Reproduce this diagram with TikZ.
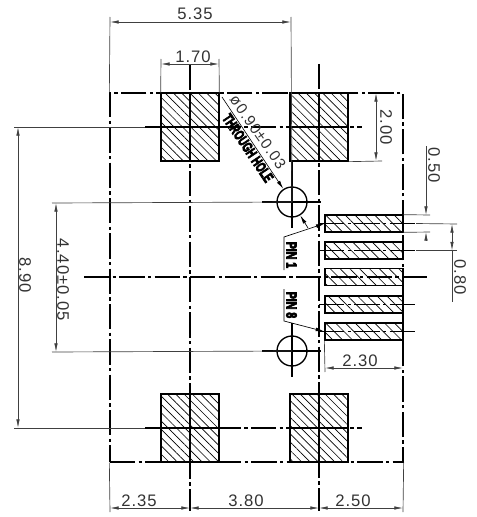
\documentclass[tikz,border=0pt]{standalone}
\usepackage{fontspec}
\setmainfont{Liberation Sans}
\newfontfamily\dimfont[LetterSpace=6]{Liberation Sans}
\newfontfamily\tagfont[FakeBold=6]{Liberation Sans Bold}
\usetikzlibrary{positioning}
\usetikzlibrary{arrows.meta}
\usetikzlibrary{patterns.meta}
\tikzset{
outline/.style={ % board edge and centre lines
draw,
line width=1pt,
dash pattern=on 19pt off 2.5pt on 2.5pt off 2.5pt},
padbox/.style={
draw,
line width=1pt,
inner sep=0pt,
pattern={Lines[angle=-45,distance=4.4pt,line width=.5pt]}},
pinbox/.style={
draw,
line width=1pt,
inner sep=0pt,
pattern={Lines[angle=-45,distance=5.2pt,line width=.5pt]},
minimum width=58.5pt,
minimum height=12.75pt},
holebox/.style={
circle,
draw,
line width=1pt,
inner sep=0pt,
minimum size=22.5pt},
extline/.style={
draw,
black!75,
line width=.5pt},
dimline/.style={
extline,
{Latex[length=6.5pt,width=2.6pt]}-{Latex[length=6.5pt,width=2.6pt]}},
leader/.style={
extline,
black,
-{Latex[length=6.5pt,width=2.8pt]}},
dimtext/.style={
font=\dimfont\fontsize{12.5}{13}\selectfont,
text=black!80,
inner sep=0pt},
boldtext/.style={
font=\tagfont\fontsize{11}{12}\selectfont,
inner sep=0pt}}
\begin{document}
\begin{tikzpicture}[x=0.75pt,y=-0.75pt]
\useasboundingbox (0,0) rectangle (477,517);
\node[outline, minimum width=219.75pt, minimum height=276.75pt, inner sep=0pt] (board) at (256.5,277.5) {};
\node[padbox, minimum width=43.5pt, minimum height=51pt] (padA) at (190,127) {};
\node[padbox, minimum width=43.5pt, minimum height=51pt] (padB) at (319,127) {};
\node[padbox, minimum width=43.5pt, minimum height=51pt] (padC) at (190,428) {};
\node[padbox, minimum width=43.5pt, minimum height=51pt] (padD) at (319,428) {};
\node[pinbox] (pin1) at (364,223.5) {};
\node[pinbox] (pin2) at (364,250.5) {};
\node[pinbox] (pin3) at (364,277) {};
\node[pinbox] (pin4) at (364,304.5) {};
\node[pinbox] (pin5) at (364,331.5) {};
\node[holebox] (holeA) at (292,202) {};
\node[holebox] (holeB) at (292,351) {};
% centre lines
\coordinate (vA0) at (190,65);
\coordinate (vA1) at (190,511);
\coordinate (vB0) at (319,64);
\coordinate (vB1) at (319,511);
\coordinate (hA0) at (145,127);
\coordinate (hA1) at (362,127);
\coordinate (hC0) at (145,428);
\coordinate (hC1) at (362,428);
\coordinate (hM0) at (84,277);
\coordinate (hM1) at (427,277);
\draw[outline] (vA0) -- (vA1);
\draw[outline] (vB0) -- (vB1);
\draw[outline] (hA0) -- (hA1);
\draw[outline] (hC0) -- (hC1);
\draw[outline] (hM0) -- (hM1);
\draw[line width=.8pt] (padA.north) -- (padA.south);
\draw[line width=.8pt] (padB.north) -- (padB.south);
\draw[line width=.8pt] (padC.north) -- (padC.south);
\draw[line width=.8pt] (padD.north) -- (padD.south);
\draw[line width=.8pt] (padA.west) -- (padA.east);
\draw[line width=.8pt] (padB.west) -- (padB.east);
\draw[line width=.8pt] (padC.west) -- (padC.east);
\draw[line width=.8pt] (padD.west) -- (padD.east);
% hole crosses
\coordinate (xA0) at (262,202);
\coordinate (xA1) at (321,202);
\coordinate (xB0) at (262,351);
\coordinate (xB1) at (321,351);
\coordinate (yA1) at (292,228);
\coordinate (yB0) at (292,323);
\coordinate (yB1) at (292,377);
\draw[line width=1pt] (xA0) -- (xA1);
\draw[line width=1pt] (xB0) -- (xB1);
\draw[line width=1pt] (padB.south -| holeA) -- (yA1);
\draw[line width=1pt] (yB0) -- (yB1);
% pin centre lines
\coordinate (p1L) at (319,223.5);
\coordinate (p1R) at (416,223.5);
\coordinate (p2L) at (319,250.5);
\coordinate (p2R) at (416,250.5);
\coordinate (p4L) at (319,304.5);
\coordinate (p4R) at (416,304.5);
\coordinate (p5L) at (319,331.5);
\coordinate (p5R) at (416,331.5);
\draw[outline] (p1L) -- (p1R);
\draw[outline] (p2L) -- (p2R);
\draw[outline] (p4L) -- (p4R);
\draw[outline] (p5L) -- (p5R);
% 5.35
\coordinate (e535a) at (110,17);
\coordinate (e535b) at (291,17);
\coordinate (d535a) at (110,22);
\coordinate (d535b) at (291,22);
\draw[extline] (e535a) -- (board.north west);
\draw[extline] (e535b) -- (holeA.center);
\draw[dimline] (d535a) -- (d535b);
\node[dimtext] (t535) at (195,14) {5.35};
% 1.70
\coordinate (e170a) at (161,59);
\coordinate (e170b) at (219,59);
\coordinate (d170a) at (161,64);
\coordinate (d170b) at (219,64);
\draw[extline] (e170a) -- (padA.north west);
\draw[extline] (e170b) -- (padA.north east);
\draw[dimline] (d170a) -- (d170b);
\node[dimtext] (t170) at (193,57) {1.70};
% 2.00
\coordinate (e200) at (382,161);
\coordinate (d200a) at (376,93);
\coordinate (d200b) at (376,161);
\draw[extline] (padB.south east) -- (e200);
\draw[dimline] (d200a) -- (d200b);
\node[dimtext, rotate=-90] (t200) at (386,127) {2.00};
% 8.90
\coordinate (e890a) at (14,127);
\coordinate (e890b) at (14,428);
\coordinate (d890a) at (18,127);
\coordinate (d890b) at (18,428);
\draw[extline] (e890a) -- (hA0);
\draw[extline] (e890b) -- (hC0);
\draw[dimline] (d890a) -- (d890b);
\node[dimtext, rotate=-90] (t890) at (25,275) {8.90};
% 4.40
\coordinate (e440a) at (52,203);
\coordinate (e440b) at (52,352);
\coordinate (d440a) at (56,203);
\coordinate (d440b) at (56,352);
\draw[extline] (e440a) -- (holeA.center);
\draw[extline] (e440b) -- (holeB.center);
\draw[dimline] (d440a) -- (d440b);
\node[dimtext, rotate=-90] (t440) at (63,280) {4.40±0.05};
% bottom row
\coordinate (bA) at (110,512);
\coordinate (bB) at (403,512);
\coordinate (d1) at (110,508);
\coordinate (d2) at (190,508);
\coordinate (d3) at (319,508);
\coordinate (d4) at (403,508);
\draw[extline] (board.south west) -- (bA);
\draw[extline] (board.south east) -- (bB);
\draw[dimline] (d1) -- (d2);
\draw[dimline] (d2) -- (d3);
\draw[dimline] (d3) -- (d4);
\node[dimtext] (t235) at (139,501) {2.35};
\node[dimtext] (t380) at (246,501) {3.80};
\node[dimtext] (t250) at (353,501) {2.50};
% 2.30
\coordinate (e230) at (325,372);
\coordinate (d230a) at (325,368);
\coordinate (d230b) at (403,368);
\draw[extline] (pin5.south west) -- (e230);
\draw[dimline] (d230a) -- (d230b);
\node[dimtext] (t230) at (360,361) {2.30};
% 0.50
\coordinate (e050a) at (430,215);
\coordinate (e050b) at (430,232);
\coordinate (d050a) at (426,146);
\coordinate (d050b) at (426,215);
\coordinate (d050c) at (426,232);
\coordinate (d050d) at (426,240);
\draw[extline] (pin1.north east) -- (e050a);
\draw[extline] (pin1.south east) -- (e050b);
\draw[extline, -{Latex[length=6.5pt,width=2.6pt]}] (d050a) -- (d050b);
\draw[extline, -{Latex[length=6.5pt,width=2.6pt]}] (d050d) -- (d050c);
\node[dimtext, rotate=-90] (t050) at (434,165) {0.50};
% 0.80
\coordinate (e080a) at (457,224);
\coordinate (e080b) at (457,250.5);
\coordinate (d080a) at (452,224);
\coordinate (d080b) at (452,250.5);
\coordinate (d080c) at (452,302);
\draw[extline] (p1R) -- (e080a);
\draw[extline] (p2R) -- (e080b);
\draw[dimline] (d080a) -- (d080b);
\draw[extline] (d080b) -- (d080c);
\node[dimtext, rotate=-90] (t080) at (460,277) {0.80};
% pin tags
\coordinate (tagA0) at (284,270);
\coordinate (tagA1) at (284,237);
\coordinate (tagB0) at (284,289);
\coordinate (tagB1) at (284,321);
\draw[leader] (tagA0) -- (tagA1) -- (pin1.west);
\draw[leader] (tagB0) -- (tagB1) -- (pin5.west);
\node[boldtext, rotate=-90, xscale=.72] (tpin1) at (291.5,255) {PIN 1};
\node[boldtext, rotate=-90, xscale=.72] (tpin8) at (291.5,305) {PIN 8};
% hole note
\coordinate (leadA) at (222,97);
\coordinate (leadB) at (308,228);
\draw[leader] (leadA) -- (holeA);
\draw[leader] (leadB) -- (holeA);
\node[dimtext, rotate=-55, font=\dimfont\fontsize{11.5}{12}\selectfont] (tdia) at (258,132) {ø0.90±0.03};
\node[boldtext, rotate=-56, xscale=.66] (tthru) at (248,148) {THROUGH HOLE};
\end{tikzpicture}
\end{document}
